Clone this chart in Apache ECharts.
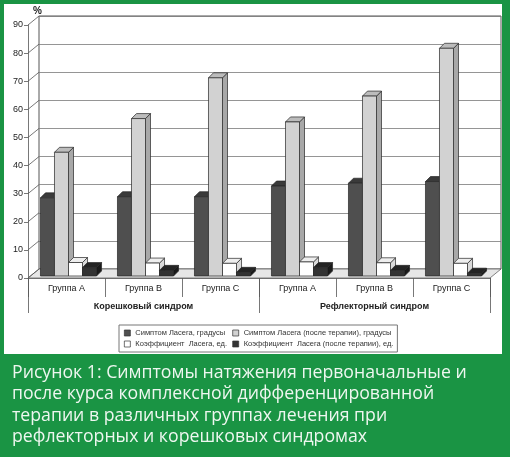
<!DOCTYPE html>
<html>
<head>
<meta charset="utf-8">
<script src="https://cdn.jsdelivr.net/npm/echarts@6/dist/echarts.min.js"></script>
<style>
html,body{margin:0;padding:0;width:510px;height:457px;background:#1a9444;overflow:hidden;}
#panel{position:absolute;left:4px;top:4px;width:498px;height:350px;background:#fff;}
#chart{position:absolute;left:0;top:0;width:510px;height:457px;}
</style>
</head>
<body>
<div id="panel"></div>
<div id="chart"></div>
<script>
// ---- data ----
const categories = ['Группа А', 'Группа В', 'Группа С', 'Группа А', 'Группа В', 'Группа С'];
const syndromes = ['Корешковый синдром', 'Рефлекторный синдром'];
const seriesNames = [
  'Симптом Ласега, градусы',
  'Симптом Ласега (после терапии), градусы',
  'Коэффициент  Ласега, ед.',
  'Коэффициент  Ласега (после терапии), ед.'
];
const lasegue      = [27.8, 28.2, 28.2, 32.0, 33.0, 33.6];
const lasegueAfter = [44.0, 56.0, 70.5, 54.8, 64.0, 81.0];
const coef         = [4.8, 4.6, 4.5, 5.0, 4.7, 4.5];
const coefAfter    = [3.0, 2.0, 1.3, 3.0, 2.0, 1.0];
const yTicks = [0, 10, 20, 30, 40, 50, 60, 70, 80, 90];
const caption = 'Рисунок 1: Симптомы натяжения первоначальные и\nпосле курса комплексной дифференцированной\nтерапии в различных группах лечения при\nрефлекторных и корешковых синдромах';

// ---- styles ----
const DX = 11, DY = 9; // depth of back wall
const palette = [
  {front: '#4f4f4f', top: '#3a3a3a', side: '#2e2e2e'},
  {front: '#d2d2d2', top: '#bcbcbc', side: '#a8a8a8'},
  {front: '#ffffff', top: '#eeeeee', side: '#dadada'},
  {front: '#333333', top: '#242424', side: '#1a1a1a'}
];
const STROKE = '#262626';
const allSeries = [lasegue, lasegueAfter, coef, coefAfter];

function barRender(sIdx) {
  return function (params, api) {
    const i = api.value(0), v = api.value(1);
    const base = api.coord([i, 0]);
    const tp = api.coord([i, v]);
    const band = api.size([1, 0])[0];
    const bw = band * 0.182;
    const d = band * 0.065;
    const off = 2;
    const x0 = base[0] - 2 * bw + sIdx * bw + off;
    const yb = base[1] - off;
    const yt = tp[1] - off;
    const c = palette[sIdx];
    const ls = {stroke: STROKE, lineWidth: 0.7};
    return {
      type: 'group',
      children: [
        {type: 'polygon', shape: {points: [[x0 + bw, yt], [x0 + bw + d, yt - d], [x0 + bw + d, yb - d], [x0 + bw, yb]]},
          style: Object.assign({fill: c.side}, ls)},
        {type: 'polygon', shape: {points: [[x0, yt], [x0 + bw, yt], [x0 + bw + d, yt - d], [x0 + d, yt - d]]},
          style: Object.assign({fill: c.top}, ls)},
        {type: 'rect', shape: {x: x0, y: yt, width: bw, height: yb - yt},
          style: Object.assign({fill: c.front}, ls)}
      ]
    };
  };
}

const FONT = 'Liberation Sans, Arial, sans-serif';

const series = [
  {
    type: 'custom', name: 'floor', silent: true, xAxisIndex: 0, yAxisIndex: 0,
    data: [[0, 0]],
    renderItem: function (params, api) {
      const cs = params.coordSys;
      const yb = cs.y + cs.height;
      return {
        type: 'polygon',
        shape: {points: [[cs.x, yb], [cs.x + cs.width, yb], [cs.x + cs.width + DX, yb - DY], [cs.x + DX, yb - DY]]},
        style: {fill: '#e6e6e6', stroke: '#666', lineWidth: 0.8}
      };
    }
  },
  {
    type: 'custom', name: 'wall', silent: true, xAxisIndex: 0, yAxisIndex: 0,
    data: yTicks.map(v => [0, v]),
    renderItem: function (params, api) {
      const cs = params.coordSys;
      const p = api.coord([0, api.value(1)]);
      return {
        type: 'line',
        shape: {x1: cs.x, y1: p[1], x2: cs.x + DX, y2: p[1] - DY},
        style: {stroke: '#555', lineWidth: 0.8}
      };
    }
  }
];
allSeries.forEach((arr, s) => {
  series.push({
    type: 'custom',
    name: seriesNames[s],
    xAxisIndex: 0, yAxisIndex: 0,
    itemStyle: {color: palette[s].front, borderColor: '#333', borderWidth: 0.7},
    data: arr.map((v, i) => [i, v]),
    renderItem: barRender(s)
  });
});

const chart = echarts.init(document.getElementById('chart'), null, {renderer: 'canvas'});
chart.setOption({
  backgroundColor: 'transparent',
  animation: false,
  textStyle: {fontFamily: FONT},
  grid: [
    {left: 28, width: 462, top: 25, height: 253, containLabel: false},
    {left: 39, width: 462, top: 16, height: 253, show: true, borderColor: '#555', borderWidth: 1, backgroundColor: '#fff'}
  ],
  xAxis: [
    {
      type: 'category', gridIndex: 0, data: categories, position: 'bottom',
      axisLine: {show: true, onZero: false, lineStyle: {color: '#555', width: 0.8}},
      axisTick: {show: true, interval: 0, length: 19, lineStyle: {color: '#555', width: 0.8}},
      axisLabel: {interval: 0, margin: 6, fontSize: 9, color: '#222', fontFamily: FONT},
      splitLine: {show: false}
    },
    {
      type: 'category', gridIndex: 0, data: syndromes, position: 'bottom',
      axisLine: {show: false, onZero: false},
      axisTick: {show: true, interval: 0, length: 35, lineStyle: {color: '#555', width: 0.8}},
      axisLabel: {interval: 0, margin: 24, fontSize: 9, fontWeight: 'bold', color: '#222', fontFamily: FONT},
      splitLine: {show: false}
    },
    {type: 'category', gridIndex: 1, data: categories, show: false}
  ],
  yAxis: [
    {
      type: 'value', gridIndex: 0, min: 0, max: 90, interval: 10,
      name: '%', nameLocation: 'end', nameGap: 9,
      nameTextStyle: {fontSize: 10, fontWeight: 'bold', color: '#222', align: 'left', padding: [0, 0, 0, 5], fontFamily: FONT},
      axisLine: {show: true, lineStyle: {color: '#555', width: 0.8}},
      axisTick: {show: true, length: 4, lineStyle: {color: '#555', width: 0.8}},
      axisLabel: {fontSize: 9, color: '#222', margin: 5, fontFamily: FONT},
      splitLine: {show: false}
    },
    {
      type: 'value', gridIndex: 1, min: 0, max: 90, interval: 10,
      axisLine: {show: false}, axisTick: {show: false}, axisLabel: {show: false},
      splitLine: {show: true, lineStyle: {color: '#7a7a7a', width: 0.8}}
    }
  ],
  legend: {
    data: seriesNames,
    left: 119, top: 325, width: 280,
    padding: [4, 4, 4, 5],
    borderColor: '#777', borderWidth: 1, backgroundColor: '#fff',
    itemWidth: 6, itemHeight: 6, itemGap: 3,
    icon: 'rect',
    itemStyle: {borderColor: '#333', borderWidth: 0.7},
    selectedMode: false,
    formatter: function (name) {
      return (name === seriesNames[0] || name === seriesNames[2]) ? '{a|' + name + '}' : '{b|' + name + '}';
    },
    textStyle: {
      fontSize: 7.5, color: '#333', fontFamily: FONT,
      rich: {
        a: {width: 94, fontSize: 7.5, lineHeight: 8, color: '#333', fontFamily: FONT},
        b: {fontSize: 7.5, lineHeight: 8, color: '#333', fontFamily: FONT}
      }
    }
  },
  graphic: [
    {
      type: 'text', left: 12, top: 362,
      style: {text: caption, fill: '#eef7f0', font: '17.7px "Open Sans", sans-serif', lineHeight: 21.5}
    }
  ],
  series: series
});
</script>
</body>
</html>
